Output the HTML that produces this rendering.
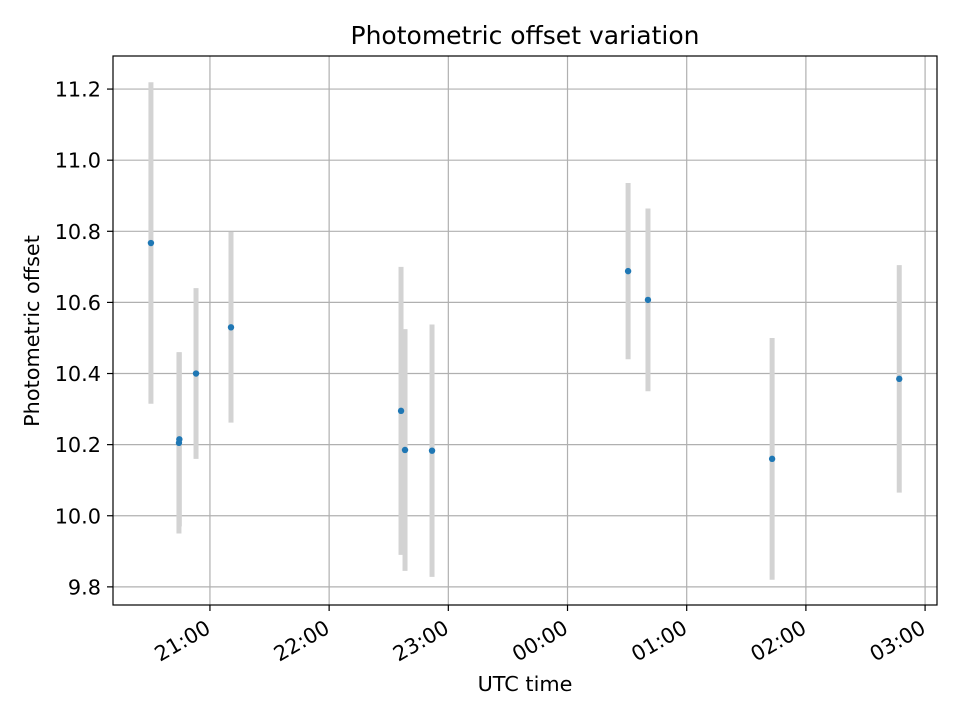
<!DOCTYPE html>
<html><head><meta charset="utf-8"><style>
html,body{margin:0;padding:0;background:#fff;}
svg{display:block;font-family:"DejaVu Sans","Liberation Sans",sans-serif;}
</style></head><body>
<svg id="chart" width="960" height="720" xmlns="http://www.w3.org/2000/svg">
<text x="525" y="44" text-anchor="middle" font-size="25">Photometric offset variation</text>
<text x="525" y="691" text-anchor="middle" font-size="20.8">UTC time</text>
<text transform="translate(39,331) rotate(-90)" text-anchor="middle" font-size="20.8">Photometric offset</text>
<g id="grid"></g><g id="bars"></g><g id="pts"></g><g id="axes"></g>
</svg>
<script>
// minutes since 20:00 UTC
const times = [30.3, 44.4, 44.6, 53, 70.6, 156.2, 158.2, 171.8, 270.5, 280.5, 343, 407];
const offsets = [10.767, 10.205, 10.215, 10.40, 10.53, 10.295, 10.185, 10.183, 10.688, 10.607, 10.16, 10.385];
const errors = [0.452, 0.255, 0.245, 0.24, 0.268, 0.405, 0.34, 0.355, 0.248, 0.257, 0.34, 0.32];
const xTickVals = [60, 120, 180, 240, 300, 360, 420];
const xTickLabels = ["21:00", "22:00", "23:00", "00:00", "01:00", "02:00", "03:00"];
const yTickVals = [9.8, 10.0, 10.2, 10.4, 10.6, 10.8, 11.0, 11.2];

const L=113,R=937,T=56,B=605;
const xmin=11.2,xmax=426, ymin=9.749, ymax=11.293;
const X=m=>L+(m-xmin)/(xmax-xmin)*(R-L);
const Y=v=>B-(v-ymin)/(ymax-ymin)*(B-T);
const NS="http://www.w3.org/2000/svg";
function mk(tag,attrs,parent){const e=document.createElementNS(NS,tag);for(const k in attrs)e.setAttribute(k,attrs[k]);document.getElementById(parent).appendChild(e);return e;}

xTickVals.forEach((v,i)=>{
  const x=X(v);
  const g=mk('line',{x1:x,x2:x,y1:T,y2:B,stroke:'#b0b0b0','stroke-width':1.2},'grid');
  
  
  const t=mk('line',{x1:x,x2:x,y1:B,y2:B+6,stroke:'#000','stroke-width':1.2},'axes');
  
  
  const lx=x+2, ly=B+27;
  const lb=mk('text',{x:lx,y:ly,'font-size':20.8,'text-anchor':'end',transform:`rotate(-30 ${lx} ${ly})`},'axes');
  lb.textContent=xTickLabels[i];
  
  
});
yTickVals.forEach(v=>{
  const y=Y(v);
  const g=mk('line',{x1:L,x2:R,y1:y,y2:y,stroke:'#b0b0b0','stroke-width':1.2},'grid');
  
  
  const t=mk('line',{x1:L-6,x2:L,y1:y,y2:y,stroke:'#000','stroke-width':1.2},'axes');
  
  
  const lb=mk('text',{x:L-12,y:y+7.5,'font-size':20.8,'text-anchor':'end'},'axes');
  lb.textContent=v.toFixed(1);
  
  
});
const fr=mk('rect',{x:L,y:T,width:R-L,height:B-T,fill:'none',stroke:'#000','stroke-width':1.2},'axes');



times.forEach((m,i)=>{
  const x=X(m);
  const b=mk('line',{x1:x,x2:x,y1:Y(offsets[i]+errors[i]),y2:Y(offsets[i]-errors[i]),stroke:'#d3d3d3','stroke-width':5},'bars');
  
  
  const p=mk('circle',{cx:x,cy:Y(offsets[i]),r:3.2,fill:'#1f77b4'},'pts');
  
  
});
</script>
</body></html>
